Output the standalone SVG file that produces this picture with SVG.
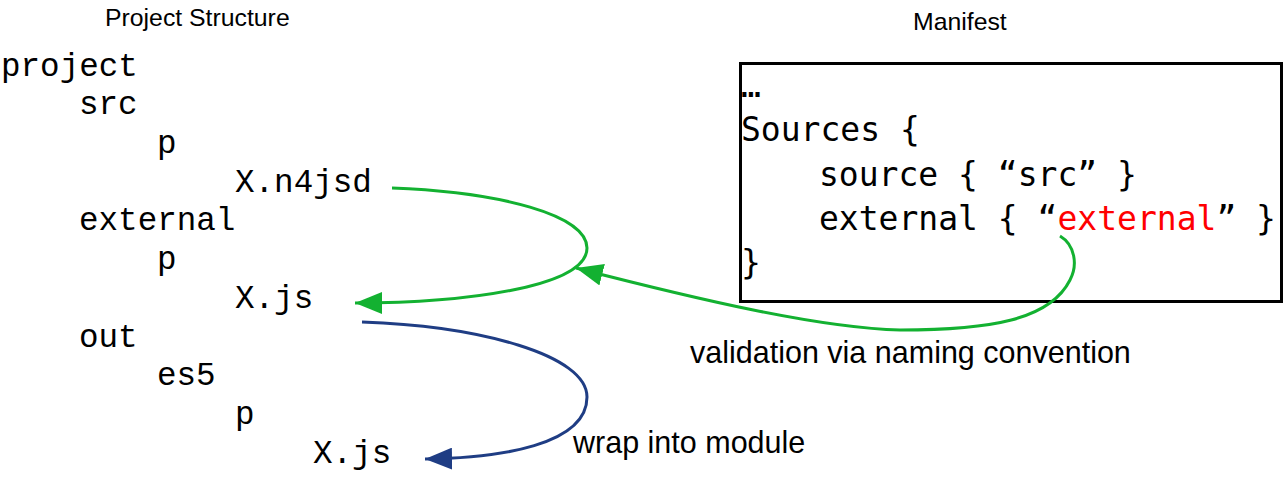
<svg xmlns="http://www.w3.org/2000/svg" width="1287" height="478" viewBox="0 0 1287 478">
<style>
.title{font-family:"Liberation Sans",Arial,sans-serif;font-size:24.8px;fill:#000}
.tree{font-family:"Liberation Mono","Courier New",monospace;font-size:32.6px;fill:#000}
.man{font-family:"DejaVu Sans Mono",monospace;font-size:33px;fill:#000}
.lbl{font-family:"Liberation Sans",Arial,sans-serif;font-size:30.5px;fill:#000}
.g{fill:none;stroke:#13b131;stroke-width:3}
.b{fill:none;stroke:#1f3d84;stroke-width:3}
</style>
<defs>
<marker id="ag" markerUnits="userSpaceOnUse" markerWidth="27" markerHeight="22" refX="27" refY="11" orient="auto" viewBox="0 0 27 22"><polygon points="0,0 27,11 0,22" fill="#13b131"/></marker>
<marker id="ab" markerUnits="userSpaceOnUse" markerWidth="27" markerHeight="22" refX="27" refY="11" orient="auto" viewBox="0 0 27 22"><polygon points="0,0 27,11 0,22" fill="#1f3d84"/></marker>
</defs>
<g id="project-structure">
<text class="title" x="105" y="26">Project Structure</text>
<text class="tree" x="1" y="76">project</text>
<text class="tree" x="79" y="114">src</text>
<text class="tree" x="157" y="153">p</text>
<text class="tree" x="235" y="192">X.n4jsd</text>
<text class="tree" x="79" y="230">external</text>
<text class="tree" x="157" y="269">p</text>
<text class="tree" x="235" y="308">X.js</text>
<text class="tree" x="79" y="347">out</text>
<text class="tree" x="157" y="385">es5</text>
<text class="tree" x="235" y="424">p</text>
<text class="tree" x="313" y="463">X.js</text>
</g>
<g id="manifest">
<text class="title" x="913" y="30">Manifest</text>
<rect x="740.5" y="63.5" width="541" height="238" fill="none" stroke="#000" stroke-width="3"/>
<text class="man" x="741" y="97">…</text>
<text class="man" x="741" y="141">Sources {</text>
<text class="man" x="819" y="186">source { “src” }</text>
<text class="man" x="819" y="230">external { “<tspan fill="#ff0000">external</tspan>” }</text>
<text class="man" x="741" y="274">}</text>
</g>
<g id="connectors">
<path class="g" d="M392,188 C500,192 587,215 587,248 C587,288 460,303 355,303" marker-end="url(#ag)"/>
<path class="g" d="M1060,236 C1075,245 1078,265 1070,280 C1050,320 990,330 900,330 C820,328 700,300 576,268" marker-end="url(#ag)"/>
<path class="b" d="M362,322 C480,326 587,355 587,397 C587,445 500,458 425,459" marker-end="url(#ab)"/>
</g>
<g id="labels">
<text class="lbl" x="690" y="363">validation via naming convention</text>
<text class="lbl" x="573" y="453">wrap into module</text>
</g>
</svg>
